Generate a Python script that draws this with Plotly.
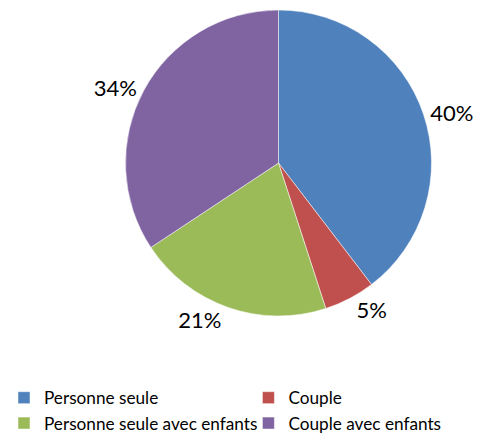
import plotly.graph_objects as go

categories = ["Personne seule", "Couple", "Personne seule avec enfants", "Couple avec enfants"]
values = [39.6, 5.4, 20.7, 34.3]
colors = ["#4F81BD", "#C0504D", "#9BBB59", "#8064A2"]

W, H = 484, 444
MB = 110
PH = H - MB

fig = go.Figure(go.Pie(
    labels=categories,
    values=values,
    sort=False,
    direction="clockwise",
    rotation=0,
    marker=dict(colors=colors, line=dict(color="white", width=0.5)),
    textposition="outside",
    texttemplate="%{percent:.0%}",
    textfont=dict(family="Lato", size=22, color="#000000"),
    domain=dict(x=[125/W, 432/W], y=[(PH-316)/PH, (PH-10)/PH]),
    hoverinfo="label+percent",
))

fig.update_layout(
    width=W, height=H,
    margin=dict(l=0, r=0, t=0, b=MB, autoexpand=False),
    paper_bgcolor="white",
    font=dict(family="Lato", size=17.2, color="#000000"),
    legend=dict(
        orientation="h",
        x=4/W, y=(PH-380)/PH, xanchor="left", yanchor="top",
        entrywidth=0.505, entrywidthmode="fraction",
        font=dict(family="Lato", size=17.2, color="#000000"),
        traceorder="normal",
    ),
)

fig.write_html("out.html", config={"displayModeBar": False},
               post_script="document.body.style.margin='0';")
